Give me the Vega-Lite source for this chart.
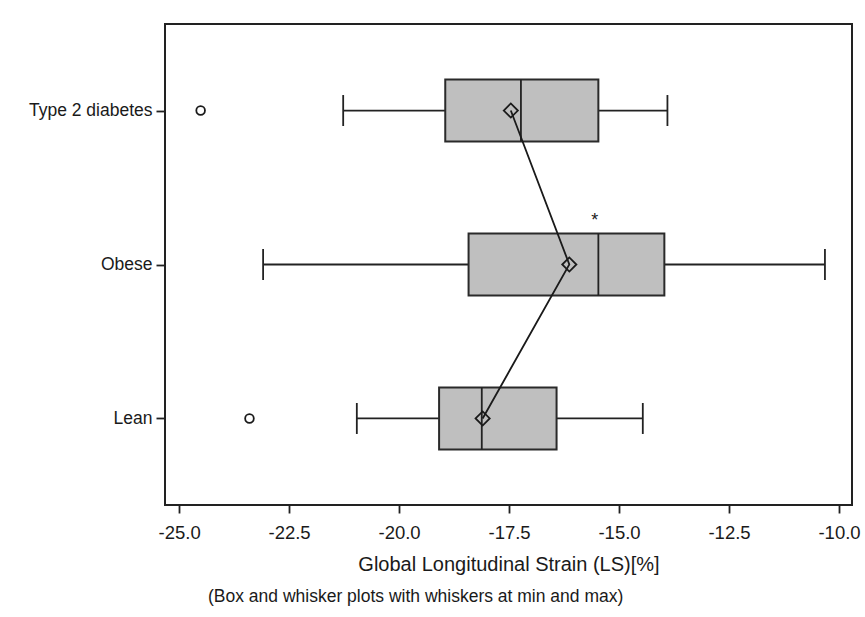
{
  "$schema": "https://vega.github.io/schema/vega-lite/v6.json",
  "width": 687,
  "height": 481,
  "autosize": "none",
  "padding": {"left": 165, "top": 24, "right": 13, "bottom": 112},
  "background": "white",
  "config": {
    "font": "Liberation Sans",
    "view": {"stroke": "#222222", "strokeWidth": 2},
    "axis": {"grid": false, "domain": false, "labelColor": "#1a1a1a", "titleColor": "#1a1a1a", "tickColor": "#222222", "tickWidth": 1.8}
  },
  "title": {
    "text": "(Box and whisker plots with whiskers at min and max)",
    "orient": "bottom",
    "anchor": "start",
    "frame": "group",
    "dx": 43,
    "offset": 13,
    "fontSize": 17.5,
    "fontWeight": "normal",
    "color": "#1a1a1a"
  },
  "datasets": {
    "stats": [
      {"group": "Type 2 diabetes", "ord": 3, "min": -21.27, "q1": -18.95, "median": -17.23, "q3": -15.47, "max": -13.9, "mean": -17.46},
      {"group": "Obese", "ord": 2, "min": -23.09, "q1": -18.42, "median": -15.47, "q3": -13.97, "max": -10.32, "mean": -16.13},
      {"group": "Lean", "ord": 1, "min": -20.96, "q1": -19.09, "median": -18.12, "q3": -16.42, "max": -14.46, "mean": -18.1}
    ],
    "outliers": [
      {"group": "Type 2 diabetes", "value": -24.51},
      {"group": "Lean", "value": -23.4}
    ],
    "annot": [
      {"group": "Obese", "value": -15.55, "label": "*"}
    ]
  },
  "encoding": {
    "y": {
      "field": "group",
      "type": "ordinal",
      "scale": {"type": "point", "domain": ["Type 2 diabetes", "Obese", "Lean"], "padding": 0.562},
      "axis": {"title": null, "labelFontSize": 17.5, "tickSize": 9, "labelPadding": 4}
    }
  },
  "layer": [
    {
      "data": {"name": "stats"},
      "mark": {"type": "rule", "color": "#222222", "strokeWidth": 1.8, "opacity": 1},
      "encoding": {
        "x": {
          "field": "min",
          "type": "quantitative",
          "scale": {"domain": [-25.32, -9.705], "nice": false, "zero": false},
          "axis": {
            "values": [-25, -22.5, -20, -17.5, -15, -12.5, -10],
            "labelExpr": "replace(format(datum.value, '.1f'), '\u2212', '-')",
            "labelFontSize": 18.5,
            "tickSize": 8,
            "labelPadding": 10,
            "title": "Global Longitudinal Strain (LS)[%]",
            "titleFontSize": 20,
            "titleFontWeight": "normal",
            "titlePadding": 13
          }
        },
        "x2": {"field": "max"}
      }
    },
    {
      "data": {"name": "stats"},
      "mark": {"type": "tick", "color": "#222222", "thickness": 1.8, "size": 31, "opacity": 1},
      "encoding": {"x": {"field": "min", "type": "quantitative"}}
    },
    {
      "data": {"name": "stats"},
      "mark": {"type": "tick", "color": "#222222", "thickness": 1.8, "size": 31, "opacity": 1},
      "encoding": {"x": {"field": "max", "type": "quantitative"}}
    },
    {
      "data": {"name": "stats"},
      "mark": {"type": "bar", "fill": "#bfbfbf", "stroke": "#2a2a2a", "strokeWidth": 2, "size": 62, "opacity": 1},
      "encoding": {
        "x": {"field": "q1", "type": "quantitative"},
        "x2": {"field": "q3"}
      }
    },
    {
      "data": {"name": "stats"},
      "mark": {"type": "tick", "color": "#222222", "thickness": 1.8, "size": 62, "opacity": 1},
      "encoding": {"x": {"field": "median", "type": "quantitative"}}
    },
    {
      "data": {"name": "stats"},
      "mark": {"type": "line", "color": "#1a1a1a", "strokeWidth": 1.8, "opacity": 1},
      "encoding": {
        "x": {"field": "mean", "type": "quantitative"},
        "order": {"field": "ord", "type": "quantitative"}
      }
    },
    {
      "data": {"name": "stats"},
      "mark": {"type": "point", "shape": "diamond", "filled": false, "fill": "transparent", "stroke": "#1a1a1a", "strokeWidth": 1.8, "size": 200, "opacity": 1},
      "encoding": {"x": {"field": "mean", "type": "quantitative"}}
    },
    {
      "data": {"name": "outliers"},
      "mark": {"type": "point", "shape": "circle", "filled": false, "stroke": "#1a1a1a", "strokeWidth": 1.8, "size": 75, "opacity": 1},
      "encoding": {"x": {"field": "value", "type": "quantitative"}}
    },
    {
      "data": {"name": "annot"},
      "mark": {"type": "text", "fontSize": 18, "color": "#1a1a1a", "baseline": "middle", "dy": -44},
      "encoding": {
        "x": {"field": "value", "type": "quantitative"},
        "text": {"field": "label"}
      }
    }
  ]
}
